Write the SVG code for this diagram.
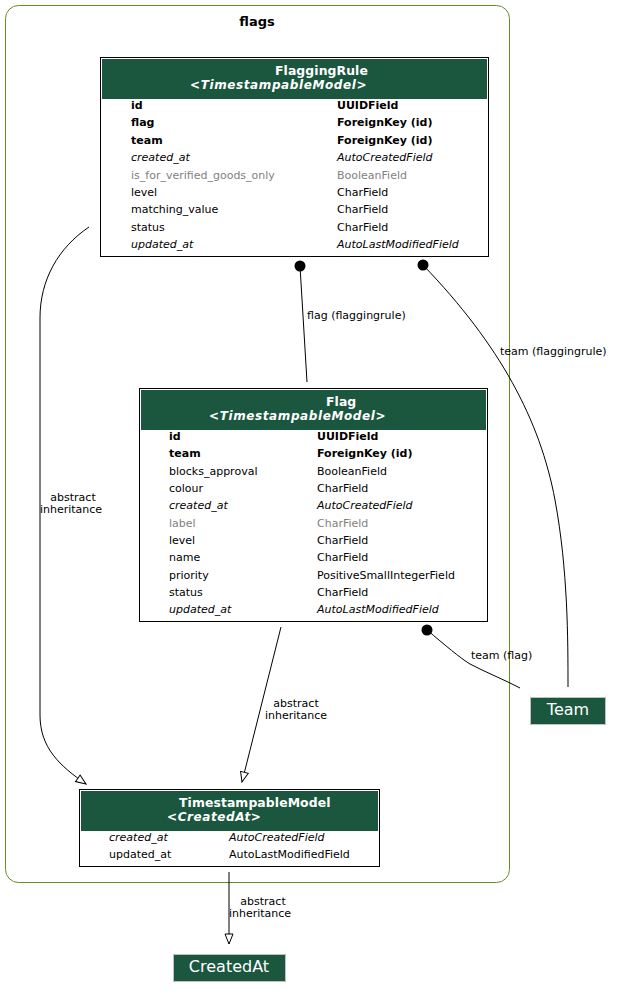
<svg xmlns="http://www.w3.org/2000/svg" width="621" height="997" viewBox="0 0 621 997">
<style>
text{font-family:"DejaVu Sans","Liberation Sans",sans-serif;}
.cl{fill:none;stroke:#698b22;stroke-width:1}
.tbl{fill:#ffffff;stroke:#000;stroke-width:1}
.hdr{fill:#1b563f;stroke:none}
.ht{fill:#fff;font-size:12.4px;font-weight:bold;letter-spacing:0.1px}
.hi{fill:#fff;font-size:12px;font-weight:bold;font-style:italic;letter-spacing:0.6px}
.r{font-size:11px;fill:#000}
.b{font-weight:bold}
.i{font-style:italic}
.g{fill:#7f7f7f}
.e{fill:none;stroke:#000;stroke-width:1}
.el{font-size:11px;fill:#000}
.box{fill:#1b563f;stroke:#c0c0c0;stroke-width:1}
.bt{fill:#fff;font-size:16px;text-anchor:middle}
</style>
<defs>
<marker id="tri" viewBox="0 0 12 10" refX="11" refY="5" markerWidth="12" markerHeight="10" markerUnits="userSpaceOnUse" orient="auto">
<path d="M1,1 L11,5 L1,9 Z" fill="#fff" stroke="#000" stroke-width="1"/>
</marker>
</defs>
<g id="cluster_flags">
<rect class="cl" x="5.5" y="5.5" width="504" height="877" rx="13" ry="13"/>
<text x="257" y="26" text-anchor="middle" style="font-size:13px;font-weight:bold">flags</text>
</g>
<g id="edges">
<path class="e" d="M89,227 C58,248 40,280 40,318 L40,715 C40,748 60,766 86,784" marker-end="url(#tri)"/>
<text class="el" x="73" y="501" text-anchor="middle">abstract</text>
<text class="el" x="71" y="513" text-anchor="middle">inheritance</text>
<circle cx="300" cy="266" r="5.5" fill="#000"/>
<path class="e" d="M300,266 L307,382"/>
<text class="el" x="307" y="319">flag (flaggingrule)</text>
<circle cx="423" cy="265" r="5.5" fill="#000"/>
<path class="e" d="M423,265 C500,345 540,420 555,500 C568,570 568,640 568,687"/>
<text class="el" x="500" y="355">team (flaggingrule)</text>
<path class="e" d="M281,627 L242,782" marker-end="url(#tri)"/>
<text class="el" x="296" y="707" text-anchor="middle">abstract</text>
<text class="el" x="296" y="719" text-anchor="middle">inheritance</text>
<circle cx="427" cy="630" r="5.5" fill="#000"/>
<path class="e" d="M427,630 C445,645 460,658 470,664 C485,672 505,680 520,688"/>
<text class="el" x="471" y="659">team (flag)</text>
<path class="e" d="M229,872 L229,944" marker-end="url(#tri)"/>
<text class="el" x="263" y="905" text-anchor="middle">abstract</text>
<text class="el" x="260" y="917" text-anchor="middle">inheritance</text>
</g>
<g id="node_FlaggingRule">
<rect class="tbl" x="100.5" y="57.5" width="388" height="199"/>
<rect class="hdr" x="102" y="59" width="385" height="40"/>
<text class="ht" x="275" y="75">FlaggingRule</text>
<text class="hi" x="190" y="89">&lt;TimestampableModel&gt;</text>
<text class="r b" x="131" y="109">id</text><text class="r b" x="337" y="109">UUIDField</text>
<text class="r b" x="131" y="126">flag</text><text class="r b" x="337" y="126">ForeignKey (id)</text>
<text class="r b" x="131" y="144">team</text><text class="r b" x="337" y="144">ForeignKey (id)</text>
<text class="r i" x="131" y="161">created_at</text><text class="r i" x="337" y="161">AutoCreatedField</text>
<text class="r g" x="131" y="179">is_for_verified_goods_only</text><text class="r g" x="337" y="179">BooleanField</text>
<text class="r" x="131" y="196">level</text><text class="r" x="337" y="196">CharField</text>
<text class="r" x="131" y="213">matching_value</text><text class="r" x="337" y="213">CharField</text>
<text class="r" x="131" y="231">status</text><text class="r" x="337" y="231">CharField</text>
<text class="r i" x="131" y="248">updated_at</text><text class="r i" x="337" y="248">AutoLastModifiedField</text>
</g>
<g id="node_Flag">
<rect class="tbl" x="139.5" y="388.5" width="348" height="233"/>
<rect class="hdr" x="141" y="390" width="345" height="40"/>
<text class="ht" x="326" y="406">Flag</text>
<text class="hi" x="209" y="420">&lt;TimestampableModel&gt;</text>
<text class="r b" x="169" y="440">id</text><text class="r b" x="317" y="440">UUIDField</text>
<text class="r b" x="169" y="457">team</text><text class="r b" x="317" y="457">ForeignKey (id)</text>
<text class="r" x="169" y="475">blocks_approval</text><text class="r" x="317" y="475">BooleanField</text>
<text class="r" x="169" y="492">colour</text><text class="r" x="317" y="492">CharField</text>
<text class="r i" x="169" y="509">created_at</text><text class="r i" x="317" y="509">AutoCreatedField</text>
<text class="r g" x="169" y="527">label</text><text class="r g" x="317" y="527">CharField</text>
<text class="r" x="169" y="544">level</text><text class="r" x="317" y="544">CharField</text>
<text class="r" x="169" y="561">name</text><text class="r" x="317" y="561">CharField</text>
<text class="r" x="169" y="579">priority</text><text class="r" x="317" y="579">PositiveSmallIntegerField</text>
<text class="r" x="169" y="596">status</text><text class="r" x="317" y="596">CharField</text>
<text class="r i" x="169" y="613">updated_at</text><text class="r i" x="317" y="613">AutoLastModifiedField</text>
</g>
<g id="node_TimestampableModel">
<rect class="tbl" x="79.5" y="789.5" width="300" height="77"/>
<rect class="hdr" x="81" y="791" width="297" height="40"/>
<text class="ht" x="179" y="807">TimestampableModel</text>
<text class="hi" x="167" y="821">&lt;CreatedAt&gt;</text>
<text class="r i" x="109" y="841">created_at</text><text class="r i" x="229" y="841">AutoCreatedField</text>
<text class="r" x="109" y="858">updated_at</text><text class="r" x="229" y="858">AutoLastModifiedField</text>
</g>
<g id="node_Team">
<rect class="box" x="530.5" y="697.5" width="75" height="27"/>
<text class="bt" x="568" y="715">Team</text>
</g>
<g id="node_CreatedAt">
<rect class="box" x="173.5" y="954.5" width="112" height="27"/>
<text class="bt" x="229" y="972">CreatedAt</text>
</g>
</svg>
